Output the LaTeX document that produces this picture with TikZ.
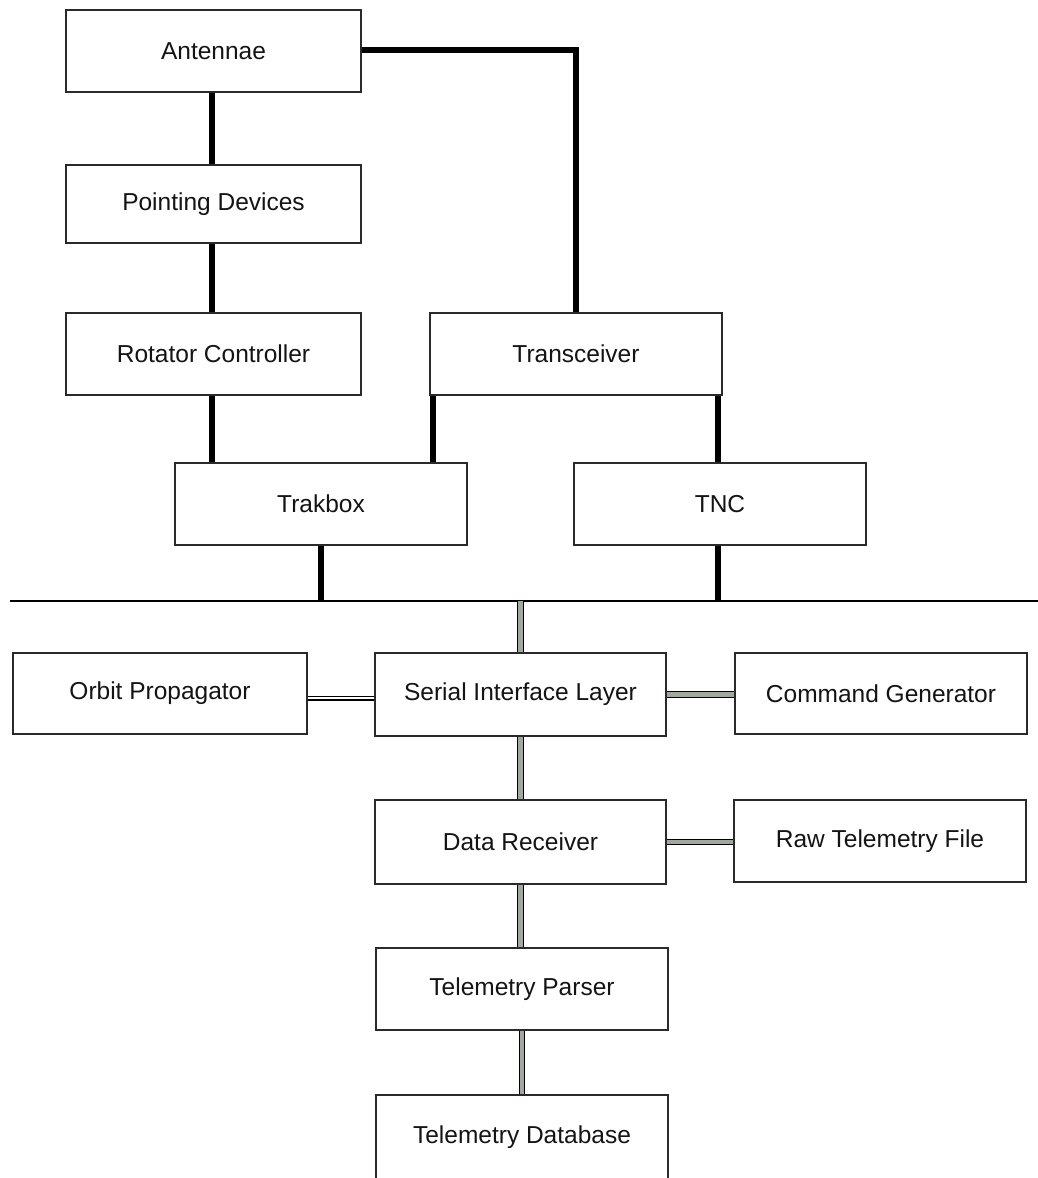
\documentclass[tikz,border=0pt]{standalone}
\usepackage{fontspec}
\setmainfont{Liberation Sans}
\usetikzlibrary{calc}
\definecolor{boxline}{HTML}{2A2A2A}
\definecolor{txt}{HTML}{141414}
\definecolor{pipegray}{HTML}{A0A8A0}
\begin{document}
\begin{tikzpicture}[x=1pt,y=-1pt,
  box/.style={draw=boxline, line width=1.3pt, fill=white, inner sep=0pt,
    minimum width=292pt, minimum height=82pt, text=txt,
    font=\fontsize{24.5pt}{29pt}\selectfont},
  thick link/.style={line width=6.5pt, black},
  bus/.style={line width=2.5pt, black},
  gray pipe/.style={draw=black, line width=1.2pt, double=pipegray, double distance=4.5pt},
  white pipe/.style={draw=black, line width=1.1pt, double=white, double distance=2.8pt}]
\useasboundingbox (0,0) rectangle (1038,1178);
\fill[white] (0,0) rectangle (1038,1178);

\coordinate (busL) at (10,601);
\coordinate (busR) at (1038,601);

\node[box, minimum width=295pt] (ant) at (213.5,51) {Antennae};
\node[box, minimum width=295pt, minimum height=78pt] (point) at (213.5,204) {Pointing Devices};
\node[box, minimum width=295pt] (rot) at (213.5,354) {Rotator Controller};
\node[box] (trans) at (576,354) {Transceiver};
\node[box] (trak) at (321,504) {Trakbox};
\node[box] (tnc) at (720,504) {TNC};
\node[box, minimum width=294pt, minimum height=81pt] (orb) at (160,693.5) {Orbit Propagator};
\node[box, minimum width=291pt, minimum height=83pt] (ser) at (520.5,694.5) {Serial Interface Layer};
\node[box, minimum height=81pt] (cmd) at (881,693.5) {Command Generator};
\node[box, minimum width=291pt, minimum height=84pt] (data) at (520.5,842) {Data Receiver};
\node[box] (raw) at (880,841) {Raw Telemetry File};
\node[box] (parse) at (522,989) {Telemetry Parser};
\node[box, minimum height=130pt] (db) at (522,1160) {};
\node[text=txt, font=\fontsize{24.5pt}{29pt}\selectfont] (dbtext) at (522,1137) {Telemetry Database};

% helper coordinates
\coordinate (rotS) at ($(rot.south)+(-1.5,0)$);
\coordinate (transSW) at ($(trans.south west)+(3.5,0)$);
\coordinate (tncN) at ($(tnc.north)+(-2,0)$);
\coordinate (tncS) at ($(tnc.south)+(-2,0)$);
\coordinate (orbE) at ($(orb.east)+(0,4.5)$);
\coordinate (antE) at ($(ant.east)+(0,-1)$);

% thick black links
\draw[thick link] ($(ant.south)+(-1.5,0)$) -- ($(point.north)+(-1.5,0)$);
\draw[thick link] ($(point.south)+(-1.5,0)$) -- ($(rot.north)+(-1.5,0)$);
\draw[thick link] (rotS) -- (rotS |- trak.north);
\draw[thick link] (antE) -| (trans.north);
\draw[thick link] (transSW) -- (transSW |- trak.north);
\draw[thick link] (tncN) -- (tncN |- trans.south);
\draw[thick link] (trak.south) -- (trak.south |- busL);
\draw[thick link] (tncS) -- (tncS |- busL);

% bus
\draw[bus] (busL) -- (busR);

% double pipes
\draw[gray pipe] (ser.north) -- (ser.north |- busL);
\draw[white pipe] (orbE) -- (orbE -| ser.west);
\draw[gray pipe] (ser.east) -- (ser.east -| cmd.west);
\draw[gray pipe] (ser.south) -- (data.north);
\draw[gray pipe] (data.east) -- (data.east -| raw.west);
\draw[gray pipe] (data.south) -- (data.south |- parse.north);
\draw[gray pipe] (parse.south) -- (parse.south |- db.north);
\end{tikzpicture}
\end{document}
